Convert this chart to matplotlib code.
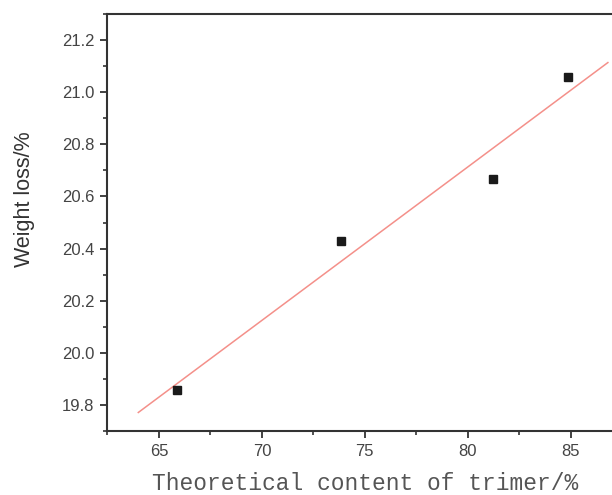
import numpy as np
import matplotlib
matplotlib.use("Agg")
import matplotlib.pyplot as plt
from matplotlib.ticker import MultipleLocator

# данные
trimer_content = [65.87, 73.83, 81.2, 84.87]
weight_loss = [19.857, 20.43, 20.668, 21.06]

x_ticks = [65, 70, 75, 80, 85]
y_ticks = [19.8, 20.0, 20.2, 20.4, 20.6, 20.8, 21.0, 21.2]

# линейная аппроксимация
slope, intercept = np.polyfit(trimer_content, weight_loss, 1)
fit_x = np.array([64.0, 86.8])
fit_y = slope * fit_x + intercept

fig = plt.figure(figsize=(6.12, 4.95), dpi=100)
ax = fig.add_axes([107 / 612, 1 - 431 / 495, 505 / 612, 417 / 495])

ax.plot(fit_x, fit_y, color="#f4908a", lw=1.1)
ax.plot(trimer_content, weight_loss, "s", color="#1a1a1a", ms=6, mec="#1a1a1a")

ax.set_xlim(62.48, 87.0)
ax.set_ylim(19.7, 21.3)
ax.set_xticks(x_ticks)
ax.set_yticks(y_ticks)
ax.set_yticklabels([f"{v:.1f}" for v in y_ticks])
ax.xaxis.set_minor_locator(MultipleLocator(2.5))
ax.yaxis.set_minor_locator(MultipleLocator(0.1))

ax.tick_params(which="major", direction="out", length=5, width=1.3,
               color="#333333", labelsize=12, labelcolor="#444444", pad=4,
               top=False, right=False)
ax.tick_params(which="minor", direction="out", length=3, width=1.2,
               color="#333333", top=False, right=False)
for lbl in ax.get_xticklabels() + ax.get_yticklabels():
    lbl.set_family("Liberation Sans")

ax.spines["right"].set_visible(False)
for side in ["left", "bottom", "top"]:
    ax.spines[side].set_linewidth(1.5)
    ax.spines[side].set_color("#333333")

ax.set_xlabel("Theoretical content of trimer/%", family="Liberation Mono",
              fontsize=16.5, color="#555555")
ax.xaxis.set_label_coords(0.512, -0.125)
ax.xaxis.label.set_va("center")

ax.set_ylabel("Weight loss/%", family="Liberation Sans", fontsize=15.5,
              color="#333333")
ax.yaxis.set_label_coords(-0.164, 0.556)
ax.yaxis.label.set_va("center")

fig.savefig("out.png", dpi=100)
